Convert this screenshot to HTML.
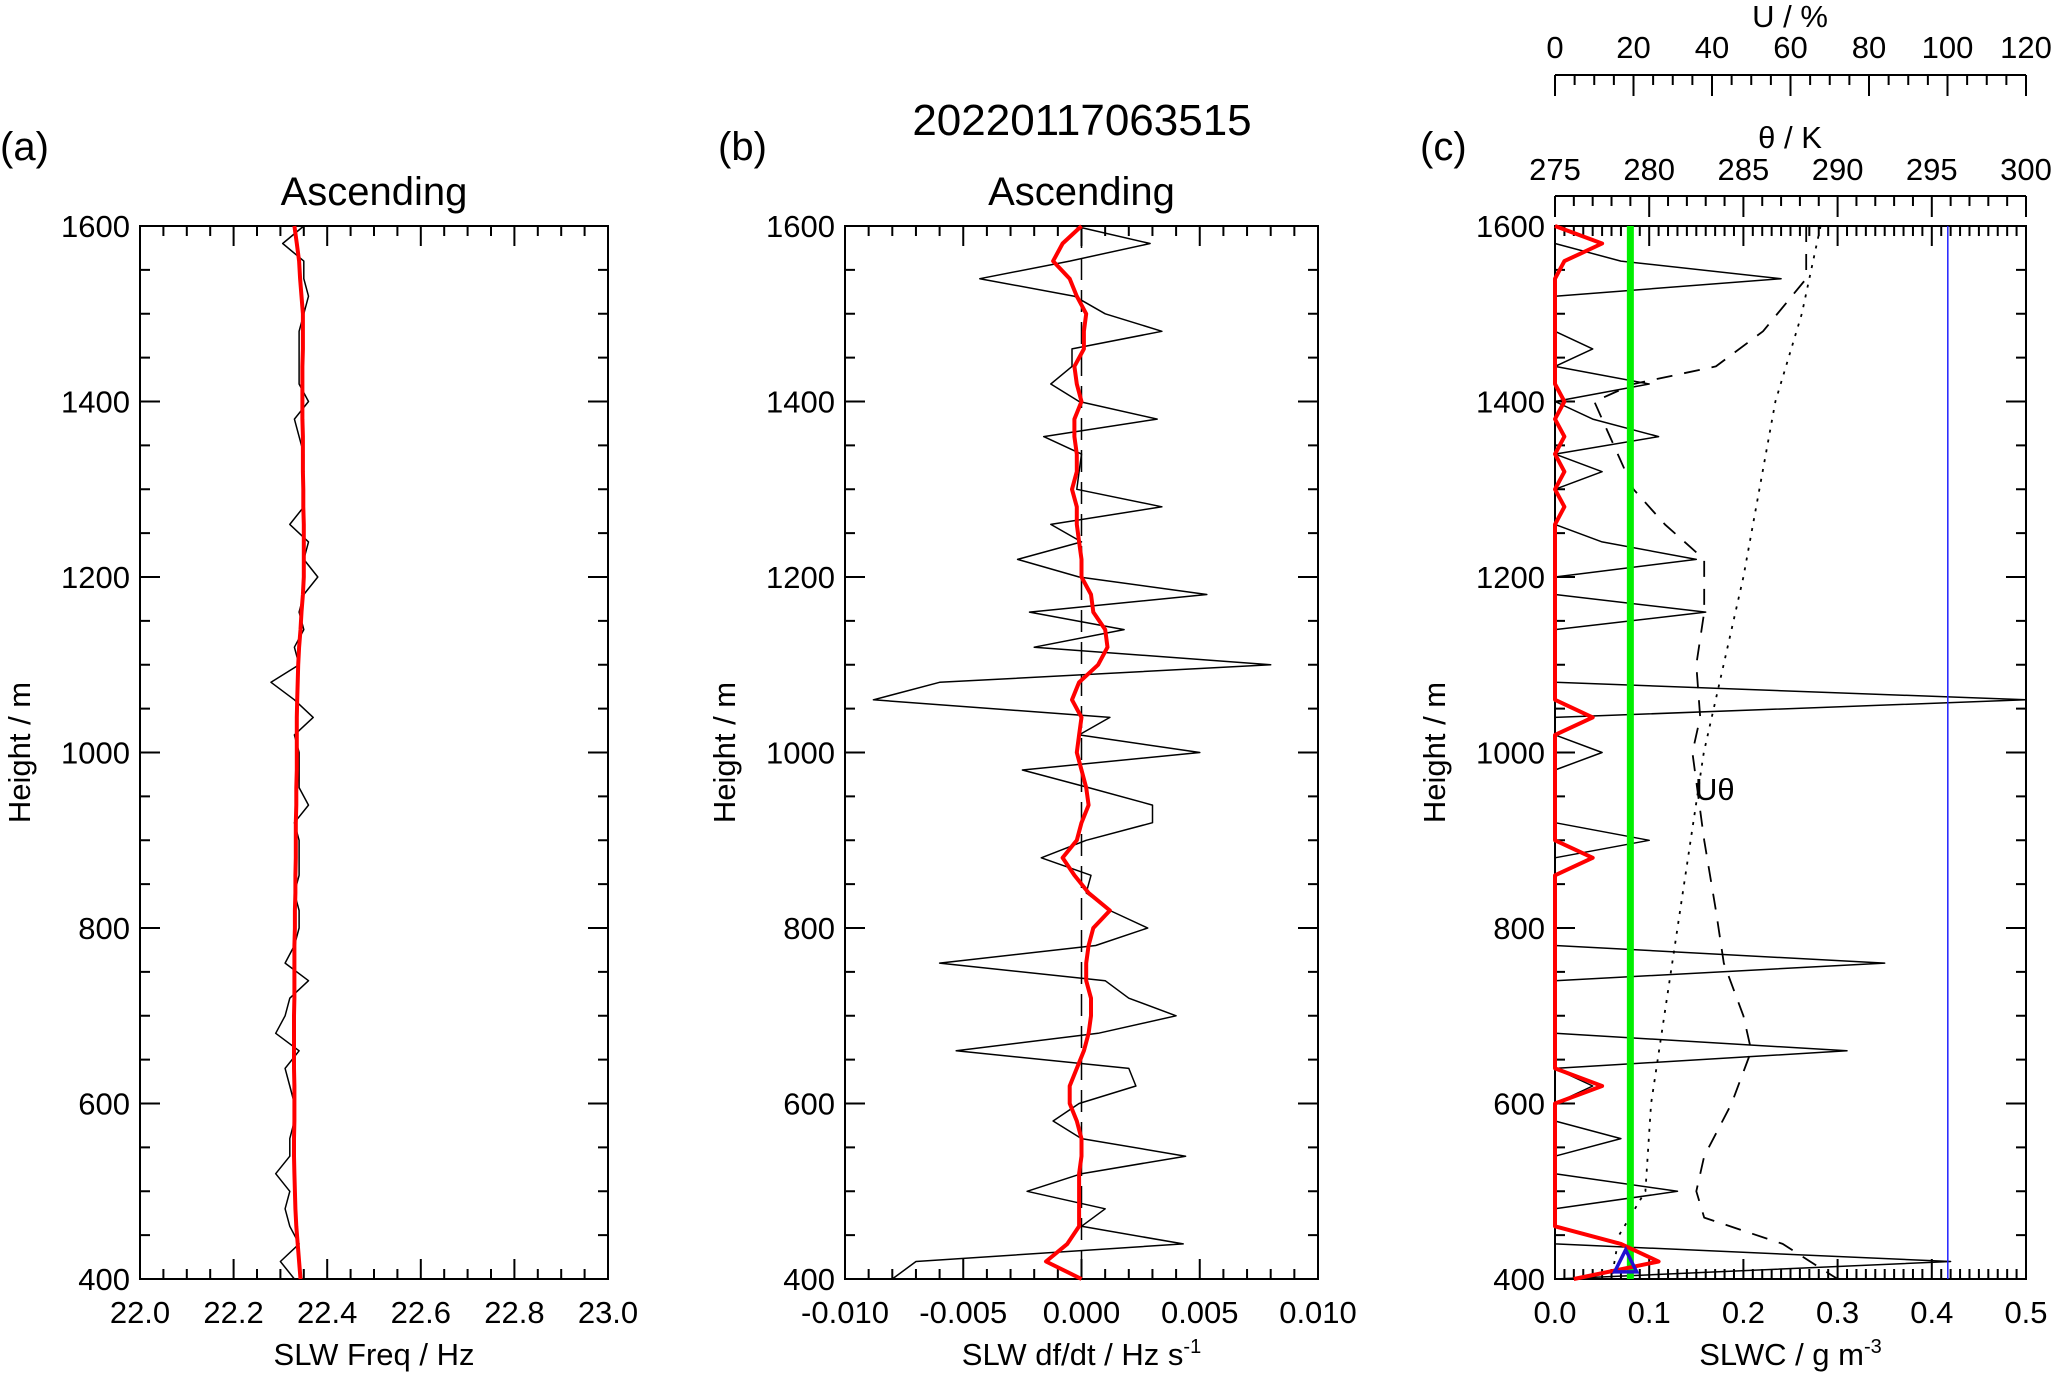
<!DOCTYPE html>
<html><head><meta charset="utf-8"><style>
html,body{margin:0;padding:0;background:#fff;}
svg{display:block;font-family:"Liberation Sans Narrow","Liberation Sans",sans-serif;}
</style></head><body>
<svg id="fig" width="2054" height="1377" viewBox="0 0 2054 1377" xmlns="http://www.w3.org/2000/svg">
<text x="1082" y="135" font-size="44" text-anchor="middle">20220117063515</text>
<text x="0" y="160" font-size="40">(a)</text>
<text x="718" y="160" font-size="40">(b)</text>
<text x="1420" y="160" font-size="40">(c)</text>
</svg>
<script>
const heights=[1600,1580,1560,1540,1520,1500,1480,1460,1440,1420,1400,1380,1360,1340,1320,1300,1280,1260,1240,1220,1200,1180,1160,1140,1120,1100,1080,1060,1040,1020,1000,980,960,940,920,900,880,860,840,820,800,780,760,740,720,700,680,660,640,620,600,580,560,540,520,500,480,460,440,420,400];
const freqRaw=[22.35,22.305,22.35,22.35,22.36,22.35,22.34,22.34,22.34,22.34,22.36,22.33,22.34,22.35,22.35,22.35,22.35,22.32,22.36,22.35,22.38,22.35,22.34,22.35,22.33,22.34,22.28,22.33,22.37,22.33,22.34,22.34,22.34,22.36,22.33,22.34,22.34,22.34,22.33,22.34,22.34,22.33,22.31,22.36,22.32,22.31,22.29,22.34,22.31,22.32,22.33,22.33,22.32,22.32,22.29,22.32,22.31,22.32,22.34,22.30,22.33];
const freqSmooth=[22.33,22.335,22.34,22.342,22.345,22.348,22.348,22.348,22.347,22.347,22.347,22.347,22.348,22.348,22.348,22.349,22.349,22.35,22.35,22.35,22.35,22.348,22.345,22.343,22.34,22.338,22.337,22.336,22.335,22.335,22.335,22.335,22.334,22.334,22.333,22.333,22.333,22.332,22.332,22.331,22.331,22.33,22.33,22.33,22.33,22.329,22.329,22.329,22.329,22.33,22.33,22.33,22.329,22.329,22.33,22.331,22.332,22.334,22.337,22.34,22.343];
const dfdtRaw=[-0.0003,0.0029,-0.0005,-0.0043,-0.0003,0.0010,0.0034,-0.0004,-0.0004,-0.0013,-0.0001,0.0032,-0.0016,0.0000,-0.0001,-0.0002,0.0034,-0.0013,0.0000,-0.0027,-0.0001,0.0053,-0.0022,0.0018,-0.0020,0.0080,-0.0060,-0.0088,0.0012,-0.0001,0.0050,-0.0025,0.0003,0.0030,0.0030,0.0002,-0.0017,0.0004,0.0002,0.0012,0.0028,0.0006,-0.0060,0.0010,0.0020,0.0040,0.0007,-0.0053,0.0020,0.0023,-0.0001,-0.0012,0.0000,0.0044,0.0000,-0.0023,0.0010,0.0000,0.0043,-0.0070,-0.0080];
const dfdtSmooth=[0.0000,-0.0008,-0.0012,-0.0005,-0.0002,0.0002,0.0001,0.0001,-0.0003,-0.0002,0.0000,-0.0003,-0.0003,-0.0002,-0.0002,-0.0004,-0.0002,-0.0002,-0.0001,0.0000,0.0000,0.0004,0.0005,0.0010,0.0011,0.0007,-0.0001,-0.0004,0.0000,-0.0001,-0.0002,0.0000,0.0002,0.0003,0.0000,-0.0002,-0.0008,-0.0003,0.0003,0.0012,0.0005,0.0003,0.0002,0.0002,0.0004,0.0004,0.0003,0.0001,-0.0002,-0.0005,-0.0005,-0.0002,0.0000,0.0000,-0.0001,-0.0001,-0.0001,-0.0001,-0.0006,-0.0015,0.0000];
const slwcRaw=[0.0,0.0,0.07,0.24,0.0,0.0,0.0,0.04,0.0,0.1,0.0,0.04,0.11,0.0,0.05,0.0,0.0,0.0,0.05,0.15,0.0,0.0,0.16,0.0,0.0,0.0,0.0,0.5,0.0,0.0,0.05,0.0,0.0,0.0,0.0,0.1,0.0,0.0,0.0,0.0,0.0,0.0,0.35,0.0,0.0,0.0,0.0,0.31,0.0,0.04,0.0,0.0,0.07,0.0,0.0,0.13,0.0,0.0,0.0,0.42,0.0];
const slwcSmooth=[0.0,0.05,0.01,0.0,0.0,0.0,0.0,0.0,0.0,0.0,0.01,0.0,0.01,0.0,0.01,0.0,0.01,0.0,0.0,0.0,0.0,0.0,0.0,0.0,0.0,0.0,0.0,0.0,0.04,0.0,0.0,0.0,0.0,0.0,0.0,0.0,0.04,0.0,0.0,0.0,0.0,0.0,0.0,0.0,0.0,0.0,0.0,0.0,0.0,0.05,0.0,0.0,0.0,0.0,0.0,0.0,0.0,0.0,0.07,0.11,0.02];
const uHeights=[1600,1540,1480,1440,1420,1400,1380,1300,1260,1220,1160,1100,1040,1000,900,820,760,700,660,600,540,500,470,440,420,400];
const uValues=[64,64,53,41,20,10,12,20,28,38,38,36,37,35,38,41,43,48,50,45,38,36,38,58,65,72];
const thHeights=[1600,1500,1400,1200,1000,800,600,500,450,400];
const thValues=[289.1,288.1,286.7,285.0,282.9,281.5,280.1,279.8,278.4,278.0];
const threshold=0.08, refLine=0.417, triX=0.075, triH=415;

const NS='http://www.w3.org/2000/svg';
const svg=document.getElementById('fig');
const yTop=226,yBot=1279;
const Y=h=>yBot-(h-400)/1200*(yBot-yTop);
function el(tag,attrs,parent){const e=document.createElementNS(NS,tag);for(const k in attrs)e.setAttribute(k,attrs[k]);(parent||svg).appendChild(e);return e;}
function txt(s,x,y,size,anchor,parent){const t=el('text',{x:x,y:y,'font-size':size,'text-anchor':anchor||'middle'},parent);t.textContent=s;return t;}

function panel(name,x0,x1,xmin,xmax,majorStep,minorStep,fmt,xlabel,title){
  const g=el('g',{});
  
  
  const X=v=>x0+(v-xmin)/(xmax-xmin)*(x1-x0);
  const fr=el('rect',{x:x0,y:yTop,width:x1-x0,height:yBot-yTop,fill:'none',stroke:'#000','stroke-width':2},g);
  
  
  const nMin=Math.round((xmax-xmin)/minorStep);
  const ratio=Math.round(majorStep/minorStep);
  let d='';
  for(let i=0;i<=nMin;i++){const x=X(xmin+i*minorStep);const L=(i%ratio===0)?20:10;d+=`M${x} ${yBot}v${-L}M${x} ${yTop}v${L}`;}
  for(let h=400;h<=1600;h+=50){const y=Y(h);const L=(h%200===0)?20:10;d+=`M${x0} ${y}h${L}M${x1} ${y}h${-L}`;}
  const tk=el('path',{d:d,stroke:'#000','stroke-width':2,fill:'none'},g);
  
  
  const nMaj=Math.round((xmax-xmin)/majorStep);
  for(let i=0;i<=nMaj;i++){const v=xmin+i*majorStep;const t=txt(fmt(v),X(v),1323,31,'middle',g);
    
    }
  for(let h=400;h<=1600;h+=200){const t=txt(String(h),x0-10,Y(h)+11,31,'end',g);
    
    }
  const xt=txt('',(x0+x1)/2,1365,31,'middle',g);xt.innerHTML=xlabel;
  
  
  const yt=txt('Height / m',0,0,31,'middle',g);yt.setAttribute('transform',`translate(${x0-110},${(yTop+yBot)/2}) rotate(-90)`);
  
  
  if(title){const tt=txt(title,(x0+x1)/2,205,40,'middle',g);
    
    }
  return {g,X};
}
function line(g,X,xs,hs,color,w,dash,name){
  const d=xs.map((v,i)=>(i?'L':'M')+X(v).toFixed(1)+' '+Y(hs[i]).toFixed(1)).join('');
  const p=el('path',{d:d,stroke:color,'stroke-width':w,fill:'none','stroke-linejoin':'round'},g);
  if(dash)p.setAttribute('stroke-dasharray',dash);
  
  
  return p;
}

// Panel a
const pa=panel('panel-a',140,608,22.0,23.0,0.2,0.05,v=>v.toFixed(1),'SLW Freq / Hz','Ascending');
line(pa.g,pa.X,freqRaw,heights,'#000',1.5,null,'freq-raw-line');
line(pa.g,pa.X,freqSmooth,heights,'#f00',4,null,'freq-smooth-line');

// Panel b
const pb=panel('panel-b',845,1318,-0.01,0.01,0.005,0.001,v=>(Math.abs(v)<1e-9?'0.000':v.toFixed(3)),'SLW df/dt / Hz s<tspan dy="-12" font-size="20">-1</tspan>','Ascending');
const z=el('line',{x1:pb.X(0),x2:pb.X(0),y1:yTop,y2:yBot,stroke:'#000','stroke-width':1.5,'stroke-dasharray':'22 10'},pb.g);


line(pb.g,pb.X,dfdtRaw,heights,'#000',1.5,null,'dfdt-raw-line');
line(pb.g,pb.X,dfdtSmooth,heights,'#f00',4,null,'dfdt-smooth-line');

// Panel c
const pc=panel('panel-c',1555,2026,0,0.5,0.1,0.01,v=>v.toFixed(1),'SLWC / g m<tspan dy="-12" font-size="20">-3</tspan>',null);
const Xc=pc.X;
line(pc.g,Xc,slwcRaw,heights,'#000',1.5,null,'slwc-raw-line');
line(pc.g,v=>1555+(v/120)*471,uValues,uHeights,'#000',1.8,'16 12','humidity-line');
line(pc.g,v=>1555+((v-275)/25)*471,thValues,thHeights,'#000',1.8,'3 7','theta-line');
const gr=el('line',{x1:Xc(threshold),x2:Xc(threshold),y1:yTop,y2:yBot,stroke:'#00ee00','stroke-width':7},pc.g);


const bl=el('line',{x1:Xc(refLine),x2:Xc(refLine),y1:yTop,y2:yBot,stroke:'#2020ff','stroke-width':1.5},pc.g);


line(pc.g,Xc,slwcSmooth,heights,'#f00',4,null,'slwc-smooth-line');
const tx=Xc(triX),ty=Y(triH);
const tri=el('path',{d:`M${tx} ${ty-16}L${tx-11} ${ty+6}L${tx+11} ${ty+6}Z`,fill:'none',stroke:'#2010d0','stroke-width':3.5},pc.g);


const ut=txt('Uθ',1695,800,31,'start',pc.g);



// top axes for panel c
function topAxis(name,y,vmin,vmax,major,minor,label,labelY,tickY,titleY){
  const g=el('g',{});
  
  
  const X=v=>1555+(v-vmin)/(vmax-vmin)*471;
  let d=`M1555 ${y}H2026`;
  const n=Math.round((vmax-vmin)/minor),r=Math.round(major/minor);
  for(let i=0;i<=n;i++){const x=X(vmin+i*minor);d+=`M${x} ${y}v${i%r===0?21:10}`;}
  const p=el('path',{d:d,stroke:'#000','stroke-width':2,fill:'none'},g);
  
  
  for(let v=vmin;v<=vmax+1e-9;v+=major){const t=txt(String(v),X(v),tickY,31,'middle',g);
    
    }
  const t=txt(label,1790,titleY,31,'middle',g);
  
  
}
topAxis('humidity-axis',75,0,120,20,5,'U / %',0,58,27);
topAxis('theta-axis',196,275,300,5,1,'θ / K',0,180,148);
</script>
</body></html>
